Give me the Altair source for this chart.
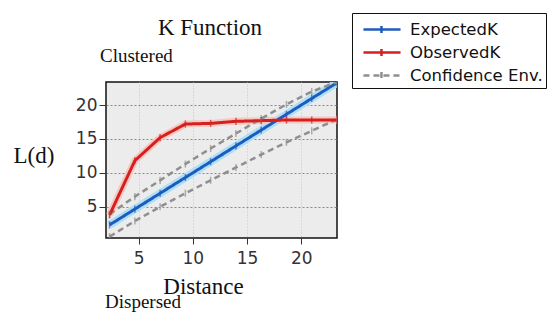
import altair as alt
import pandas as pd

# ---- data ----
distance = [2.33, 4.66, 6.99, 9.32, 11.65, 13.98, 16.31, 18.64, 20.97, 23.30]
expected_k = [2.33, 4.66, 6.99, 9.32, 11.65, 13.98, 16.31, 18.64, 20.97, 23.30]
observed_k = [3.8, 11.8, 15.2, 17.2, 17.3, 17.6, 17.7, 17.8, 17.8, 17.8]
conf_upper = [3.9, 6.5, 8.9, 11.3, 13.6, 15.8, 18.0, 20.1, 22.0, 23.4]
conf_lower = [0.6, 2.9, 5.0, 7.0, 8.9, 10.8, 12.7, 14.5, 16.2, 17.9]

series_names = ["ExpectedK", "ObservedK", "Confidence Env."]
series_colors = ["#1f5bbf", "#d42020", "#8f8f8f"]
series_dash = [[1, 0], [1, 0], [6, 4]]
x_ticks = [5, 10, 15, 20]
y_ticks = [5, 10, 15, 20]
x_domain = [2.0, 23.3]
y_domain = [0.4, 23.4]
chart_title = "K Function"
top_note = "Clustered"
bottom_note = "Dispersed"

rows = []
for name, line, vals in [
    ("ExpectedK", "exp", expected_k),
    ("Confidence Env.", "upper", conf_upper),
    ("Confidence Env.", "lower", conf_lower),
    ("ObservedK", "obs", observed_k),
]:
    for i, (d, v) in enumerate(zip(distance, vals)):
        rows.append({"d": d, "L": v, "series": name, "line": line, "order": i})
df = pd.DataFrame(rows)

x_enc = alt.X("d:Q", scale=alt.Scale(domain=x_domain, nice=False, zero=False),
              axis=alt.Axis(values=x_ticks, title="Distance", titleFont="Liberation Serif",
                            titleFontSize=23, titleFontWeight="normal", titleColor="#111",
                            titleX=97, titleY=55, titleAlign="center", titleBaseline="alphabetic"))
y_enc = alt.Y("L:Q", scale=alt.Scale(domain=y_domain, nice=False, zero=False),
              axis=alt.Axis(values=y_ticks, title="L(d)", titleAngle=0, titleFont="Liberation Serif",
                            titleFontSize=23, titleFontWeight="normal", titleColor="#111",
                            titleX=-93, titleY=73, titleAlign="left", titleBaseline="middle"))

color_scale = alt.Scale(domain=series_names, range=series_colors)
dash_scale = alt.Scale(domain=series_names, range=series_dash)

base = alt.Chart(df)

halo_blue = base.transform_filter(alt.datum.series == "ExpectedK").mark_line(
    strokeWidth=8, color="#aee0f5", clip=True).encode(x=x_enc, y=y_enc, order="order:Q")
halo_red = base.transform_filter(alt.datum.series == "ObservedK").mark_line(
    strokeWidth=7, color="#f6c8c0", clip=True).encode(x=x_enc, y=y_enc, order="order:Q")

leg = alt.Legend(orient="none", legendX=246, legendY=-69)
lines = base.mark_line(clip=True).encode(
    x=x_enc, y=y_enc,
    color=alt.Color("series:N", scale=color_scale, title=None, legend=leg),
    strokeDash=alt.StrokeDash("series:N", scale=dash_scale, title=None, legend=leg),
    strokeWidth=alt.condition(alt.datum.series == "Confidence Env.", alt.value(2.5), alt.value(3)),
    detail="line:N",
    order="order:Q",
)

points = base.mark_point(shape="M0,-1L0,1", size=50, strokeWidth=1.5, filled=False, clip=True).encode(
    x=x_enc, y=y_enc,
    color=alt.Color("series:N", scale=color_scale, legend=None),
)

serif = dict(font="Liberation Serif", baseline="alphabetic", color="#111")
title_txt = alt.Chart(alt.Data(values=[{"t": chart_title}])).mark_text(
    fontSize=23, align="center", **serif
).encode(x=alt.value(104), y=alt.value(-47), text="t:N")
clustered = alt.Chart(alt.Data(values=[{"t": top_note}])).mark_text(
    fontSize=19, align="left", **serif
).encode(x=alt.value(-6), y=alt.value(-20), text="t:N")
dispersed = alt.Chart(alt.Data(values=[{"t": bottom_note}])).mark_text(
    fontSize=19, align="left", **serif
).encode(x=alt.value(-1), y=alt.value(226), text="t:N")

chart = alt.layer(halo_blue, halo_red, lines, points, title_txt, clustered, dispersed).properties(
    width=231, height=156,
    autosize=alt.AutoSizeParams(type="none"),
    padding={"left": 98, "top": 74, "right": 211, "bottom": 74},
).configure_view(
    fill="#ececec", stroke="#111", strokeWidth=1.5
).configure_axis(
    domain=False, ticks=True, tickColor="#333", tickSize=6,
    labelFont="DejaVu Sans", labelFontSize=17, labelColor="#333",
    grid=True,
).configure_axisX(
    gridColor="#c4c4c4", gridDash=[1, 2], labelPadding=6,
).configure_axisY(
    gridColor="#8a8a8a", gridDash=[2, 2], labelPadding=2, tickSize=7,
).configure_legend(
    symbolType="M-0.42,0L2.67,0M1.08,-0.3L1.08,0.3", symbolSize=576, symbolStrokeWidth=2.5,
    labelFont="DejaVu Sans", labelFontSize=16.5, labelColor="#111", labelOffset=28,
    rowPadding=-1.5, padding=3, strokeColor="#111", fillColor="white",
    labelLimit=300,
)

chart.save("out.html", embed_options={"renderer": "svg", "actions": False})
